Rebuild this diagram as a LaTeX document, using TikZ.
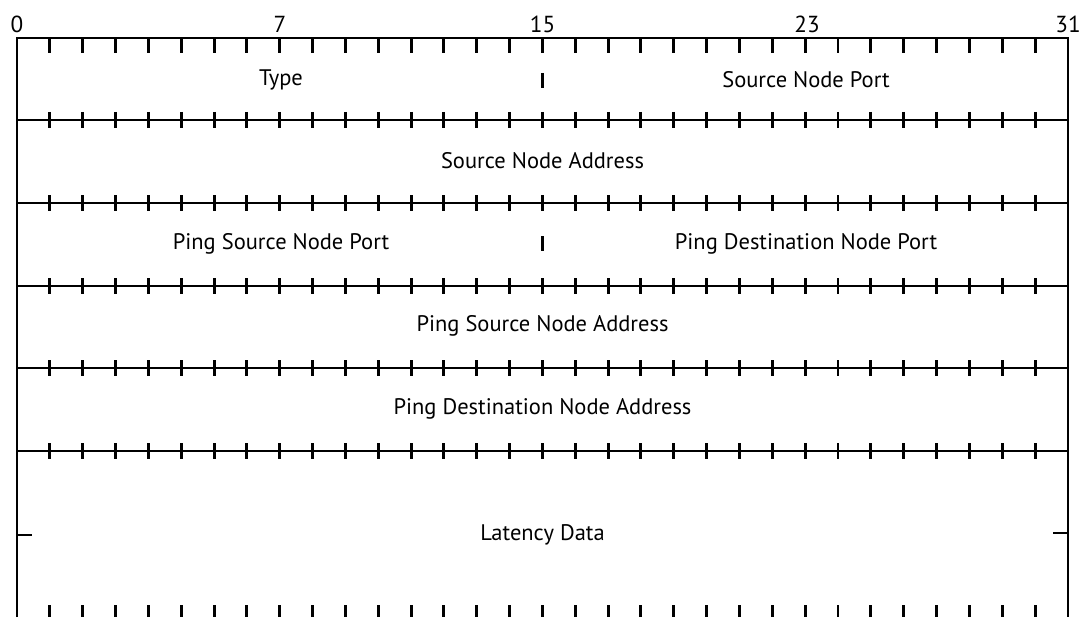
\documentclass[tikz,border=0pt]{standalone}
\usepackage{fontspec}
\setmainfont{PT Sans}
\usetikzlibrary{positioning}

\begin{document}
\begin{tikzpicture}[x=0.025cm, y=-0.025cm, line width=2.1pt,
    field/.style={font=\fontsize{16}{20}\selectfont, inner sep=0pt},
    bitnum/.style={font=\fontsize{16.5}{20}\selectfont, anchor=base, inner sep=0pt}
]
  \useasboundingbox (0,0) rectangle (1082,617);

  % Frame and row lines
  \draw (17,617) -- (17,38) -- (1068,38) -- (1068,617);
  \foreach \y in {120,203,286,368,451}
    \draw (17,\y) -- (1068,\y);

  % Bit ticks
  \foreach \k in {1,...,31} {
    \draw (17+\k*32.84,38) -- ++(0,15);
    \foreach \y in {120,203,286,368,451}
      \draw (17+\k*32.84,\y-8) -- ++(0,16);
    \draw (17+\k*32.84,605) -- (17+\k*32.84,617);
  }

  % Half-word marks
  \draw (542.5,73) -- (542.5,88);
  \draw (542.5,236) -- (542.5,251);
  \draw (17,535) -- (32,535);
  \draw (1068,533) -- (1053,533);

  % Bit numbers
  \node[bitnum] (b0) at (17,33) {0};
  \node[bitnum] (b7) at (280,33) {7};
  \node[bitnum] (b15) at (542.5,33) {15};
  \node[bitnum] (b23) at (807,33) {23};
  \node[bitnum] (b31) at (1068,33) {31};

  % Fields
  \node[field] (type) at (281,80) {Type};
  \node[field] (srcport) at (806,80) {Source Node Port};
  \node[field] (srcaddr) at (542.5,161) {Source Node Address};
  \node[field] (pingsrcport) at (281,244) {Ping Source Node Port};
  \node[field] (pingdstport) at (806,244) {Ping Destination Node Port};
  \node[field] (pingsrcaddr) at (542.5,326) {Ping Source Node Address};
  \node[field] (pingdstaddr) at (542.5,409) {Ping Destination Node Address};
  \node[field] (latency) at (542.5,535) {Latency Data};
\end{tikzpicture}
\end{document}
